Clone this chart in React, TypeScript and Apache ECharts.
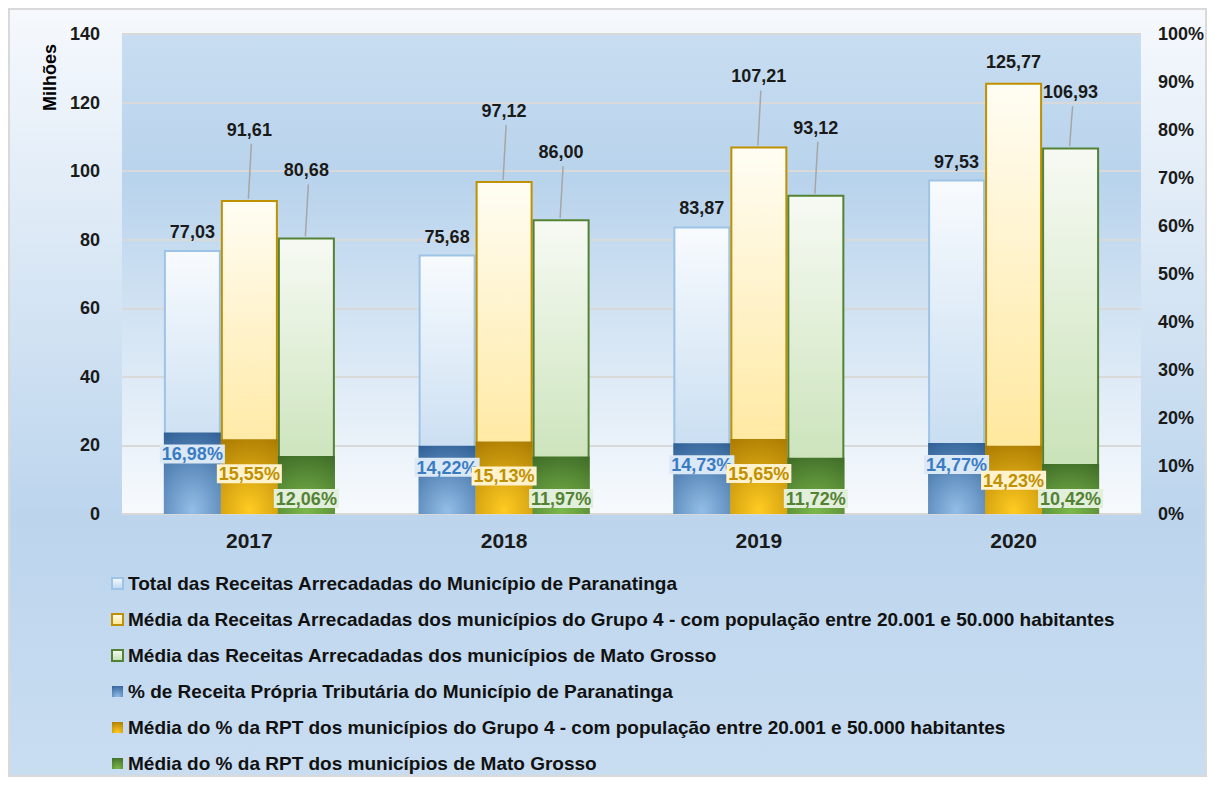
import React, { useEffect, useRef } from 'react';
import * as echarts from 'echarts';

const years = ['2017', '2018', '2019', '2020'];
const totalMunicipio = [77.03, 75.68, 83.87, 97.53];
const mediaGrupo4 = [91.61, 97.12, 107.21, 125.77];
const mediaMT = [80.68, 86.0, 93.12, 106.93];
const rptMunicipio = [16.98, 14.22, 14.73, 14.77];
const rptGrupo4 = [15.55, 15.13, 15.65, 14.23];
const rptMT = [12.06, 11.97, 11.72, 10.42];

const leftMax = 140;
const leftInterval = 20;
const rightMax = 100;
const rightInterval = 10;

const names = [
  'Total das Receitas Arrecadadas do Município de Paranatinga',
  'Média da Receitas Arrecadadas dos municípios do Grupo 4 - com população entre 20.001 e 50.000 habitantes',
  'Média das Receitas Arrecadadas dos municípios de Mato Grosso',
  '% de Receita Própria Tributária do Município de Paranatinga',
  'Média do % da RPT dos municípios do Grupo 4 - com população entre 20.001 e 50.000 habitantes',
  'Média do % da RPT dos municípios de Mato Grosso',
];

const FONT = "'Liberation Sans', Arial, sans-serif";
const fmt = (v: number) => v.toFixed(2).replace('.', ',');

const lin = (a: string, b: string) => ({
  type: 'linear', x: 0, y: 0, x2: 0, y2: 1,
  colorStops: [{ offset: 0, color: a }, { offset: 1, color: b }],
});
const rad = (center: string, edge: string) => ({
  type: 'radial', x: 0.5, y: 0.95, r: 1.1,
  colorStops: [{ offset: 0, color: center }, { offset: 1, color: edge }],
});

const BAR_W = 57;

// label + leader line drawn above a bar (offsetX = bar centre relative to category centre)
const leaderSeries = (values: number[], offsetX: number, rise: number, minCenter: number) => ({
  type: 'custom', xAxisIndex: 0, yAxisIndex: 0, silent: true, z: 6,
  data: values.map((v, i) => [i, v]),
  renderItem: (params: any, api: any) => {
    const p = api.coord([api.value(0), api.value(1)]);
    const x = p[0] + offsetX;
    const top = p[1];
    const cy = Math.max(top - rise, minCenter);
    const children: any[] = [
      {
        type: 'text',
        style: {
          text: fmt(api.value(1)), x, y: cy,
          align: 'center', verticalAlign: 'middle',
          fill: '#1a1a1a', font: `bold 18px ${FONT}`,
        },
      },
    ];
    if (top - (cy + 14) > 10) {
      children.push({
        type: 'line',
        shape: { x1: x + 2, y1: cy + 14, x2: x - 1, y2: top - 1 },
        style: { stroke: '#a6a6a6', lineWidth: 1.5 },
      });
    }
    return { type: 'group', children };
  },
});

export default function App() {
  const ref = useRef<HTMLDivElement>(null);
  useEffect(() => {
    if (!ref.current) return;
    const chart = echarts.init(ref.current, null, { renderer: 'svg' });
    const W = 1199, H = 769;
    const pctLabel = (color: string, bg: string, position: string, distance: number) => ({
      show: true, position, distance,
      color, backgroundColor: bg, padding: [1, 2, 0, 2],
      fontFamily: FONT, fontWeight: 'bold', fontSize: 18,
      formatter: (p: any) => fmt(p.value) + '%',
    });
    const option: any = {
      animation: false,
      textStyle: { fontFamily: FONT },
      graphic: [
        {
          type: 'rect', z: -10, silent: true,
          shape: { x: 0, y: 0, width: W, height: H },
          style: {
            fill: {
              type: 'linear', x: 0, y: 0, x2: 0, y2: 1,
              colorStops: [
                { offset: 0, color: '#f6f9fd' },
                { offset: 0.66, color: '#bcd5ed' },
                { offset: 1, color: '#c9ddf1' },
              ],
            },
          },
        },
        {
          type: 'rect', z: 100, silent: true,
          shape: { x: 1, y: 1, width: W - 2, height: H - 2 },
          style: { fill: 'none', stroke: '#d9d9d9', lineWidth: 2 },
        },
        {
          type: 'text', z: 100, x: 42, y: 69.5, rotation: Math.PI / 2,
          style: {
            text: 'Milhões', fill: '#000', font: `bold 18px ${FONT}`,
            align: 'center', verticalAlign: 'middle',
          },
        },
      ],
      grid: {
        left: 114, right: 64, top: 26, bottom: 263,
        show: true, borderWidth: 0,
        backgroundColor: {
          type: 'linear', x: 0, y: 0, x2: 0, y2: 1,
          colorStops: [
            { offset: 0, color: '#c8ddf1' },
            { offset: 0.3, color: '#b8d3ec' },
            { offset: 1, color: '#f7fafd' },
          ],
        },
      },
      legend: {
        orient: 'vertical', left: 103, top: 566, height: 203, padding: 0,
        itemWidth: 11, itemHeight: 11, itemGap: 17, icon: 'rect',
        data: names,
        textStyle: { fontFamily: FONT, fontWeight: 'bold', fontSize: 19, color: '#111' },
      },
      xAxis: [
        {
          type: 'category', data: years,
          axisLine: { lineStyle: { color: '#d9d9d9', width: 2 } },
          axisTick: { show: false },
          axisLabel: { color: '#1a1a1a', fontFamily: FONT, fontWeight: 'bold', fontSize: 21, margin: 16 },
        },
        { type: 'category', data: years, show: false },
      ],
      yAxis: [
        {
          type: 'value', min: 0, max: leftMax, interval: leftInterval,
          axisLine: { show: false }, axisTick: { show: false },
          axisLabel: { color: '#1a1a1a', fontFamily: FONT, fontWeight: 'bold', fontSize: 18, margin: 22 },
          splitLine: { lineStyle: { color: '#d9d9d9', width: 2 } },
        },
        {
          type: 'value', min: 0, max: rightMax, interval: rightInterval,
          axisLine: { show: false }, axisTick: { show: false },
          axisLabel: {
            color: '#1a1a1a', fontFamily: FONT, fontWeight: 'bold', fontSize: 18, margin: 17,
            formatter: '{value}%',
          },
          splitLine: { show: false },
        },
      ],
      series: [
        {
          name: names[0], type: 'bar', xAxisIndex: 0, yAxisIndex: 0,
          data: totalMunicipio, barWidth: BAR_W, barGap: '0%',
          itemStyle: { color: lin('#f8fbfe', '#bcd6ee'), borderColor: '#9dc3e6', borderWidth: 2 },
          label: {
            show: true, position: 'top', distance: 9,
            color: '#1a1a1a', fontFamily: FONT, fontWeight: 'bold', fontSize: 18,
            formatter: (p: any) => fmt(p.value),
          },
        },
        {
          name: names[1], type: 'bar', xAxisIndex: 0, yAxisIndex: 0,
          data: mediaGrupo4, barWidth: BAR_W, barGap: '0%',
          itemStyle: { color: lin('#fffdf4', '#ffe48f'), borderColor: '#bf9000', borderWidth: 2 },
        },
        {
          name: names[2], type: 'bar', xAxisIndex: 0, yAxisIndex: 0,
          data: mediaMT, barWidth: BAR_W, barGap: '0%',
          itemStyle: { color: lin('#f7faf4', '#c3dfb0'), borderColor: '#548235', borderWidth: 2 },
        },
        {
          name: names[3], type: 'bar', xAxisIndex: 1, yAxisIndex: 1,
          data: rptMunicipio, barWidth: BAR_W, barGap: '0%',
          itemStyle: { color: rad('#92bde7', '#2c5d93') },
          label: pctLabel('#3a7cc4', '#dbe8f6', 'insideTop', 12),
        },
        {
          name: names[4], type: 'bar', xAxisIndex: 1, yAxisIndex: 1,
          data: rptGrupo4, barWidth: BAR_W, barGap: '0%',
          itemStyle: { color: rad('#ffcb22', '#a87800') },
          label: pctLabel('#bf9000', '#fff2cc', 'insideTop', 25),
        },
        {
          name: names[5], type: 'bar', xAxisIndex: 1, yAxisIndex: 1,
          data: rptMT, barWidth: BAR_W, barGap: '0%',
          itemStyle: { color: rad('#7cb84c', '#3d6a26') },
          label: pctLabel('#548235', '#e2efda', 'insideBottom', 6),
        },
        leaderSeries(mediaGrupo4, 0, 70, 54),
        leaderSeries(mediaMT, BAR_W, 67, 84),
      ],
    };
    chart.setOption(option);
    return () => chart.dispose();
  }, []);
  return <div ref={ref} style={{ width: 1199, height: 769 }} />;
}
